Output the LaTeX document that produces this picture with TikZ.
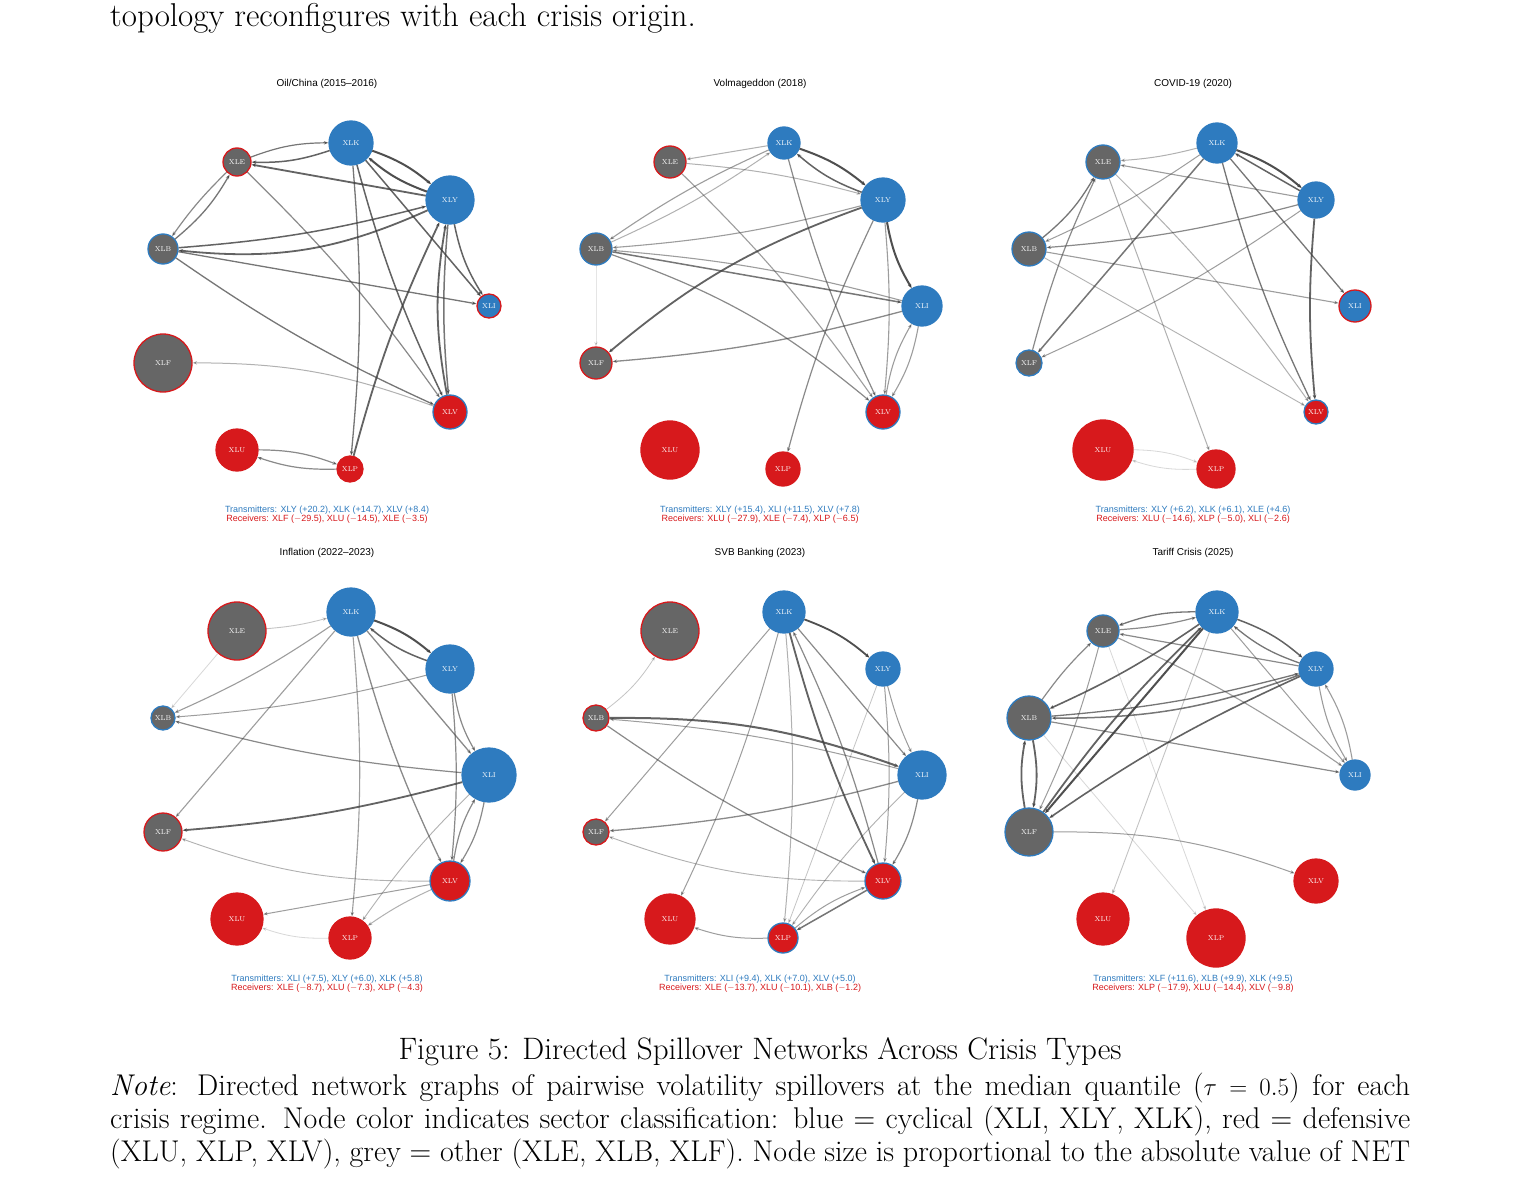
\documentclass[tikz,border=0pt]{standalone}
\usepackage{fontspec}
\newfontfamily\hv{Liberation Sans}
\usetikzlibrary{arrows.meta}
\definecolor{cb}{HTML}{2E7BBF}
\definecolor{cr}{HTML}{D7191C}
\definecolor{cg}{HTML}{666666}
\definecolor{ce}{HTML}{3C3C3C}
\def\posK{(351,143)}\def\posY{(450,200)}\def\posI{(489,306)}\def\posV{(450,412)}
\def\posP{(350,469)}\def\posU{(237,450)}\def\posF{(163,363)}\def\posB{(163,249)}\def\posE{(237,162)}
\tikzset{
 nd/.style={circle,inner sep=0pt,line width=1.3pt,text=white,font=\fontsize{7}{7}\selectfont},
 edge/.style={draw=ce,-{Stealth[length=4.5pt,width=3.5pt]}},
 ttl/.style={font=\hv\fontsize{10}{11}\selectfont},
 leg/.style={font=\hv\fontsize{9}{10}\selectfont},
}
\newcommand\mknodes[1]{\foreach \n/\r/\f/\b in {#1}{\node[nd,fill=\f,draw=\b,minimum size=2*\r pt] (\pid\n) at \csname pos\n\endcsname {XL\n};}}
\newcommand\mkedges[1]{\foreach \a/\b/\o/\w/\g in {#1}{\draw[edge,opacity=\o,line width=\w pt] (\pid\a) to[bend left=\g] (\pid\b);}}
\newcommand\mktext[3]{\node[ttl] at (327,84) {#1};\node[leg,text=cb] at (327,510) {#2};\node[leg,text=cr] at (327,519) {#3};}
\begin{document}
\begin{tikzpicture}[x=1pt,y=-1pt]
\useasboundingbox (0,0) rectangle (1530,1180);
\fill[white] (0,0) rectangle (1530,1180);
\node[anchor=west,font=\fontsize{33}{40}\selectfont,inner sep=0pt] at (110,18) {topology reconfigures with each crisis origin.};
% Panel 1
\begin{scope}\def\pid{a}
\mknodes{K/22/cb/cb,Y/24/cb/cb,I/12/cb/cr,V/17/cr/cb,P/13/cr/cr,U/21/cr/cr,F/29/cg/cr,B/15/cg/cb,E/14/cg/cr}
\mkedges{K/E/.8/1.5/10,E/K/.7/1.2/10,K/Y/.9/2/10,Y/K/.9/2/10,K/I/.8/1.5/0,K/V/.8/1.5/-5,K/P/.7/1.3/5,Y/E/.8/1.8/0,Y/B/.8/1.8/15,B/Y/.8/1.5/-5,Y/I/.8/1.5/-10,V/Y/.8/1.8/10,P/Y/.8/1.8/5,Y/V/.7/1.5/-5,B/E/.7/1.3/-10,E/B/.6/1.2/-5,B/I/.7/1.3/0,B/V/.7/1.3/-5,E/V/.6/1.2/5,V/F/.4/1/-10,U/P/.6/1.2/10,P/U/.6/1.2/10}
\mktext{Oil/China (2015\textendash 2016)}{Transmitters: XLY (+20.2), XLK (+14.7), XLV (+8.4)}{Receivers: XLF ($-$29.5), XLU ($-$14.5), XLE ($-$3.5)}
\end{scope}
% Panel 2
\begin{scope}[shift={(433,0)}]\def\pid{b}
\mknodes{K/16/cb/cb,Y/22/cb/cb,I/20/cb/cb,V/17/cr/cb,P/17/cr/cr,U/29/cr/cr,F/16/cg/cr,B/16/cg/cb,E/16/cg/cr}
\mkedges{K/Y/.9/2/10,Y/K/.8/1.5/10,Y/I/.9/2/-10,K/V/.6/1.2/-5,K/B/.5/1.1/-5,E/Y/.4/1/5,Y/F/.8/1.8/-10,Y/B/.5/1.1/5,B/I/.7/1.5/0,B/V/.6/1.2/10,I/F/.6/1.3/5,I/V/.5/1.1/10,V/I/.5/1.1/10,Y/P/.6/1.2/-5,E/V/.5/1.1/5,K/E/.4/1/0,B/K/.4/1/-5,I/B/.5/1.1/-5,Y/V/.5/1.1/5,B/F/.2/.8/0}
\mktext{Volmageddon (2018)}{Transmitters: XLY (+15.4), XLI (+11.5), XLV (+7.8)}{Receivers: XLU ($-$27.9), XLE ($-$7.4), XLP ($-$6.5)}
\end{scope}
% Panel 3
\begin{scope}[shift={(866,0)}]\def\pid{c}
\mknodes{K/20/cb/cb,Y/18/cb/cb,I/16/cb/cr,V/12/cr/cb,P/19/cr/cr,U/30/cr/cr,F/13/cg/cb,B/17/cg/cb,E/17/cg/cb}
\mkedges{K/Y/.9/2/10,Y/K/.8/1.5/0,K/I/.7/1.3/0,K/V/.7/1.3/-5,K/E/.4/1/5,K/B/.5/1/5,K/F/.7/1.5/0,Y/B/.6/1.2/5,Y/E/.5/1.1/0,Y/F/.5/1/5,B/E/.7/1.3/-10,F/E/.6/1.2/5,B/I/.5/1.1/0,E/V/.4/1/5,E/P/.4/1/0,Y/V/.8/1.8/-5,B/V/.4/.9/0,P/U/.2/.8/10,U/P/.2/.8/10}
\mktext{COVID-19 (2020)}{Transmitters: XLY (+6.2), XLK (+6.1), XLE (+4.6)}{Receivers: XLU ($-$14.6), XLP ($-$5.0), XLI ($-$2.6)}
\end{scope}
% Panel 4
\begin{scope}[shift={(0,469)}]\def\pid{d}
\mknodes{K/24/cb/cb,Y/24/cb/cb,I/27/cb/cb,V/20/cr/cb,P/21/cr/cr,U/26/cr/cr,F/19/cg/cr,B/12/cg/cb,E/29/cg/cr}
\mkedges{K/Y/.9/2/10,Y/K/.8/1.5/10,K/I/.6/1.3/0,K/V/.6/1.3/-5,K/P/.5/1.1/5,K/B/.5/1.1/5,K/F/.5/1.1/0,Y/I/.6/1.2/-10,Y/V/.6/1.2/5,Y/B/.5/1/5,I/F/.8/1.8/5,I/B/.6/1.2/5,I/V/.6/1.2/10,V/I/.6/1.2/10,V/U/.5/1/0,V/P/.4/1/-5,E/B/.2/.8/0,V/F/.4/.9/10,P/U/.2/.8/10,E/K/.3/.9/-5,I/P/.4/.9/-5}
\mktext{Inflation (2022\textendash 2023)}{Transmitters: XLI (+7.5), XLY (+6.0), XLK (+5.8)}{Receivers: XLE ($-$8.7), XLU ($-$7.3), XLP ($-$4.3)}
\end{scope}
% Panel 5
\begin{scope}[shift={(433,469)}]\def\pid{e}
\mknodes{K/21/cb/cb,Y/17/cb/cb,I/24/cb/cb,V/18/cr/cb,P/15/cr/cb,U/25/cr/cr,F/13/cg/cr,B/13/cg/cr,E/29/cg/cr}
\mkedges{K/Y/.9/1.8/10,K/I/.6/1.2/0,K/V/.8/1.8/-5,V/K/.6/1.2/-5,K/P/.4/1/5,K/U/.5/1/5,K/F/.5/1/0,Y/I/.5/1/-5,Y/V/.5/1/5,B/I/.8/2/10,B/V/.6/1.2/-5,I/F/.6/1.3/5,I/B/.5/1/-5,I/V/.6/1.2/10,V/P/.7/1.5/0,P/V/.5/1/10,B/E/.3/.8/-10,P/U/.5/1/10,V/F/.4/.9/10,I/P/.4/.9/-5,Y/P/.3/.8/0}
\mktext{SVB Banking (2023)}{Transmitters: XLI (+9.4), XLK (+7.0), XLV (+5.0)}{Receivers: XLE ($-$13.7), XLU ($-$10.1), XLB ($-$1.2)}
\end{scope}
% Panel 6
\begin{scope}[shift={(866,469)}]\def\pid{f}
\mknodes{K/21/cb/cb,Y/17/cb/cb,I/15/cb/cb,V/22/cr/cr,P/29/cr/cr,U/26/cr/cr,F/24/cg/cb,B/22/cg/cb,E/16/cg/cb}
\mkedges{K/Y/.8/1.5/10,Y/K/.7/1.3/10,K/E/.7/1.3/-10,E/K/.6/1.2/-5,K/B/.8/1.6/5,K/F/.9/2/0,F/K/.8/1.8/5,K/I/.5/1/0,Y/E/.6/1.2/0,Y/B/.7/1.5/10,B/Y/.7/1.3/-5,B/I/.6/1.2/0,E/I/.5/1.1/5,Y/F/.8/1.6/-5,F/B/.8/1.8/10,B/F/.8/1.8/10,F/V/.5/1/10,B/P/.2/.8/0,E/P/.2/.8/0,K/U/.3/.9/0,Y/I/.5/1.1/-10,I/Y/.5/1.1/-10,B/E/.6/1.2/5,E/F/.5/1/5}
\mktext{Tariff Crisis (2025)}{Transmitters: XLF (+11.6), XLB (+9.9), XLK (+9.5)}{Receivers: XLP ($-$17.9), XLU ($-$14.4), XLV ($-$9.8)}
\end{scope}
% Caption
\node[font=\fontsize{31}{38}\selectfont] at (760,1052) {Figure 5: Directed Spillover Networks Across Crisis Types};
\begin{scope}[every node/.style={anchor=west,font=\fontsize{30}{36}\selectfont,inner sep=0pt}]
\node at (110,1088) {\makebox[1300pt][s]{\emph{Note}: Directed network graphs of pairwise volatility spillovers at the median quantile ($\tau = 0.5$) for each}};
\node at (110,1121) {\makebox[1300pt][s]{crisis regime. Node color indicates sector classification: blue = cyclical (XLI, XLY, XLK), red = defensive}};
\node at (110,1154) {\makebox[1300pt][s]{(XLU, XLP, XLV), grey = other (XLE, XLB, XLF). Node size is proportional to the absolute value of NET}};
\end{scope}
\end{tikzpicture}
\end{document}
